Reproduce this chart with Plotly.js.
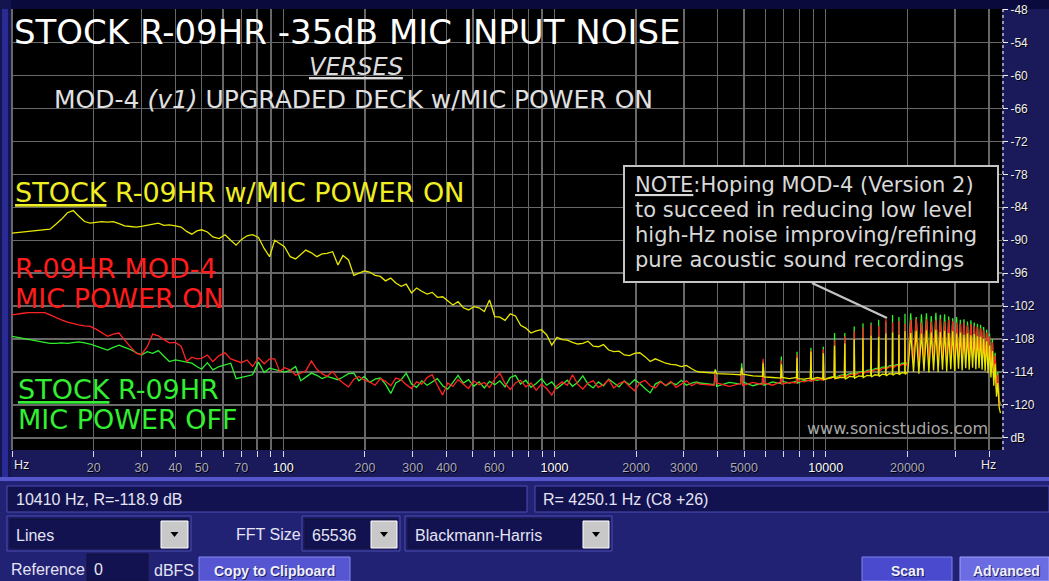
<!DOCTYPE html>
<html><head><meta charset="utf-8">
<script src="https://cdn.plot.ly/plotly-3.0.1.min.js"></script>
<style>html,body{margin:0;padding:0;background:#1a1a5a;overflow:hidden}#chart{width:1049px;height:581px}</style>
</head><body><div id="chart"></div>
<script>
// ---------- DATA ----------
const freqLow = [10,10.5,11,11.5,12,12.6,13.2,13.8,14.5,15.2,16,16.8,17.6,18.5,19.4,20.4,21.4,22.5,23.6,24.8,26,27.3,28.7,30,31.5,33,34.6,36.3,38,40,42,44,46,48,50,52.5,55,58,61,64,67,70,73.5,77,81,85,89,93,97,101,106,111,116,121,127,133,139,145,152,159,166,174,182,190,199,208,218,228,238,249,260,272,284,297,310,324,339,354,370,387,404,422,441,461,482,504,527,551,576,602,629,657,687,718,750,784,819,856,895,935,977,1021,1067,1115,1165,1217,1272,1329,1389,1451,1516,1584,1655,1730,1808,1889,1974,2063,2156,2253,2354,2460,2571,2687,2808,2934,3066,3204,3348];

const stockOnLow = [-88.7,-88.6,-88.5,-88.4,-88.3,-88.2,-88.1,-88.0,-87.1,-86.2,-85.0,-84.6,-85.6,-86.6,-86.9,-86.8,-86.6,-86.7,-86.6,-87.0,-87.4,-87.5,-87.6,-87.5,-87.3,-87.1,-86.9,-87.3,-87.2,-87.4,-87.6,-88.4,-88.9,-88.3,-88.1,-88.5,-89.4,-89.7,-89.0,-90.0,-90.9,-89.9,-89.2,-89.0,-89.5,-91.5,-93.0,-90.0,-90.6,-91.2,-93.0,-93.4,-92.6,-91.8,-92.3,-93.0,-92.5,-92.4,-92.1,-94.5,-92.8,-93.6,-96.4,-96.0,-95.6,-95.8,-96.4,-96.6,-97.4,-96.9,-97.8,-98.4,-98.0,-99.6,-98.7,-99.3,-99.8,-99.5,-100.4,-100.3,-101.0,-101.8,-101.2,-102.3,-102.7,-102.1,-102.3,-103.0,-100.9,-103.9,-104.0,-104.6,-103.4,-103.8,-105.5,-106.0,-106.9,-106.5,-106.3,-107.2,-109.1,-107.7,-108.1,-108.2,-108.6,-108.9,-108.8,-108.4,-109.3,-109.4,-109.0,-110.0,-110.3,-110.2,-110.9,-111.0,-110.6,-110.5,-111.2,-112.1,-111.6,-112.0,-112.4,-112.6,-112.7,-113.0,-112.8,-113.4,-113.9];

const modOnLow = [-103.6,-103.4,-103.3,-103.2,-103.2,-103.1,-103.2,-103.6,-104.1,-104.5,-104.9,-105.2,-105.4,-105.6,-105.7,-106.2,-106.8,-107.5,-107.1,-106.9,-108.2,-109.4,-110.6,-110.8,-109.4,-107.1,-107.4,-108.1,-108.7,-108.6,-109.3,-112.1,-111.3,-111.6,-111.5,-110.9,-112.1,-111.0,-110.5,-111.6,-111.9,-112.3,-111.8,-113.0,-111.4,-112.5,-111.6,-111.6,-113.9,-113.2,-113.6,-114.6,-114.2,-113.8,-112.0,-113.5,-114.3,-114.8,-113.9,-115.2,-116.0,-116.7,-115.3,-114.8,-115.5,-115.8,-116.4,-115.2,-115.7,-116.5,-115.1,-115.4,-116.3,-117.0,-115.8,-116.2,-115.0,-114.5,-116.4,-118.2,-116.0,-116.6,-115.4,-116.2,-117.0,-115.6,-116.3,-115.9,-116.8,-115.3,-114.2,-116.1,-117.2,-116.0,-115.5,-116.7,-116.0,-117.3,-116.2,-117.0,-118.2,-116.5,-115.8,-116.4,-114.5,-116.2,-117.1,-116.0,-115.6,-116.8,-116.3,-115.4,-116.9,-116.1,-115.7,-116.6,-117.4,-116.0,-115.5,-116.5,-116.9,-115.8,-116.4,-115.7,-116.8,-116.2,-115.6,-116.5,-116.0];

const stockOffLow = [-107.5,-107.7,-107.9,-108.1,-108.3,-108.5,-108.7,-108.8,-108.8,-108.7,-108.8,-108.7,-108.5,-108.7,-108.9,-109.3,-109.6,-110.0,-109.5,-109.1,-109.5,-109.9,-110.5,-110.9,-110.3,-110.6,-110.1,-111.2,-112.1,-111.8,-112.0,-112.2,-112.4,-113.0,-113.5,-112.3,-113.6,-113.0,-112.7,-112.4,-115.2,-115.0,-114.7,-114.5,-112.2,-114.1,-113.3,-113.5,-113.8,-114.0,-113.7,-113.0,-115.6,-114.9,-114.2,-114.6,-115.2,-114.8,-115.1,-115.4,-114.9,-114.3,-114.2,-115.6,-114.8,-115.9,-115.3,-115.1,-116.2,-117.9,-116.0,-115.4,-114.2,-116.2,-116.8,-115.6,-116.4,-115.8,-115.2,-116.5,-117.1,-115.9,-114.6,-116.0,-115.4,-116.6,-115.8,-116.9,-115.7,-116.3,-115.6,-116.7,-115.0,-114.6,-116.2,-115.5,-116.8,-116.1,-115.2,-116.4,-115.8,-117.0,-116.3,-115.5,-116.6,-115.9,-114.7,-116.2,-116.9,-115.8,-116.5,-115.3,-116.0,-116.7,-115.6,-116.3,-115.4,-116.1,-117.0,-117.8,-116.2,-115.7,-116.5,-115.9,-116.3,-115.5,-116.4,-116.0,-115.8];

const freqHigh = [3430,
 3880,3920,3960,4410, 4860,4900,4940,5390, 5840,5880,5920,6370, 6820,6860,6900,7350,
 7800,7840,7880,8330, 8780,8820,8860,9310, 9760,9800,9840,10290, 10740,10780,10820,11270,
 11720,11760,11800,12250, 12700,12740,12780,13230, 13680,13720,13760,14210, 14660,14700,14740,15190,
 15640,15680,15720,16170, 16620,16660,16700,17150, 17600,17640,17680,18130, 18580,18620,18660,19110,
 19560,19600,19640,20090,
 20580,21070, 21560,22050, 22540,23030, 23520,24010, 24500,24990, 25480,25970, 26460,26950, 27440,27930,
 28420,28910, 29400,29890, 30380,30870, 31360,31850, 32340,32830, 33320,33810, 34300,34790, 35280,35770,
 36260,36750, 37240,37730, 38220,38710, 39200,39690, 40180,40670, 41160,41650, 42140,42630, 43120,43610,
 44100];

const stockOnHigh = [-114.0,
 -114.2,-113.6,-114.3,-114.4, -114.5,-113.2,-114.4,-114.7, -114.8,-112.4,-114.9,-115.0, -115.1,-112.6,-115.0,-115.2,
 -115.0,-111.4,-115.2,-115.3, -115.1,-110.3,-115.3,-115.0, -115.2,-110.6,-115.4,-115.1, -114.9,-109.2,-115.2,-115.0,
 -115.0,-108.8,-115.3,-114.8, -114.9,-108.0,-115.1,-114.7, -114.8,-107.8,-115.0,-114.6, -114.7,-107.4,-114.9,-114.5,
 -114.6,-107.6,-114.8,-114.4, -114.5,-107.0,-114.7,-114.3, -114.4,-106.8,-114.6,-114.2, -114.3,-107.2,-114.5,-114.1,
 -114.2,-106.6,-114.4,-114.0,
 -106.9,-114.0, -106.5,-114.3, -107.0,-113.8, -106.4,-114.1, -106.8,-113.7, -106.3,-114.0, -106.7,-113.6, -106.5,-113.9,
 -106.9,-113.5, -106.6,-113.8, -107.0,-113.4, -106.8,-113.7, -107.2,-113.3, -107.0,-113.6, -107.3,-113.2, -107.1,-113.5,
 -107.5,-113.3, -107.6,-113.6, -108.0,-113.8, -108.4,-114.2, -109.2,-115.0, -110.2,-116.5, -112.5,-118.5, -116.0,-120.5,
 -121.5];

const modOnHigh = [-116.2,
 -116.4,-114.2,-116.0,-116.6, -116.1,-113.6,-116.5,-115.9, -116.3,-111.6,-116.0,-116.4, -115.8,-111.9,-116.2,-115.9,
 -116.0,-110.8,-115.6,-115.8, -115.4,-110.1,-115.7,-115.3, -115.5,-109.8,-115.1,-115.2, -114.9,-108.2,-115.2,-114.8,
 -114.6,-107.5,-114.9,-114.5, -114.3,-106.6,-114.6,-114.2, -114.0,-105.9,-114.3,-113.9, -113.8,-105.4,-114.0,-113.6,
 -113.5,-105.6,-113.8,-113.4, -113.3,-104.4,-113.5,-113.1, -113.0,-105.0,-113.3,-112.9, -112.8,-104.7,-113.0,-112.6,
 -112.7,-105.2,-112.9,-112.5,
 -104.5,-112.4, -104.3,-112.6, -105.0,-112.2, -104.4,-112.5, -104.8,-112.0, -104.5,-112.3, -104.3,-111.9, -104.8,-112.2,
 -104.5,-111.8, -104.7,-112.1, -105.0,-111.7, -105.2,-112.0, -104.9,-111.6, -105.5,-111.9, -105.2,-111.5, -105.6,-111.8,
 -105.8,-111.7, -106.0,-112.0, -106.4,-112.3, -106.8,-112.8, -107.5,-113.6, -108.6,-115.0, -111.0,-117.5, -114.5,-119.5,
 -120.0];

const stockOffHigh = [-116.0,
 -116.3,-113.5,-116.6,-115.9, -116.2,-112.4,-115.8,-116.5, -116.0,-112.0,-116.4,-115.8, -116.1,-111.2,-115.7,-116.0,
 -115.7,-110.3,-116.0,-115.5, -115.6,-109.6,-115.3,-115.5, -115.2,-109.4,-115.4,-115.0, -114.8,-106.9,-115.0,-114.6,
 -114.5,-106.9,-114.7,-114.3, -114.2,-105.7,-114.4,-114.0, -113.9,-105.1,-114.1,-113.7, -113.6,-105.0,-113.8,-113.4,
 -113.3,-104.5,-113.5,-113.1, -113.1,-104.8,-113.3,-112.9, -112.8,-103.6,-113.0,-112.7, -112.6,-104.0,-112.8,-112.4,
 -112.4,-103.4,-112.6,-112.2,
 -103.3,-112.1, -104.0,-112.3, -103.5,-111.9, -103.3,-112.2, -103.8,-111.7, -103.2,-112.0, -103.6,-111.6, -103.5,-111.9,
 -103.9,-111.5, -104.2,-111.8, -104.0,-111.4, -104.5,-111.7, -104.4,-111.3, -104.8,-111.6, -104.6,-111.2, -105.0,-111.5,
 -105.2,-111.4, -105.4,-111.7, -105.8,-112.0, -106.3,-112.5, -107.0,-113.3, -108.0,-114.8, -110.5,-117.2, -114.0,-119.2,
 -119.8];

const gridHz = [10,20,30,40,50,60,70,80,90,100,200,300,400,500,600,700,800,900,1000,2000,3000,4000,5000,6000,7000,8000,9000,10000,20000,30000,40000];
const hzLabels = ['','20','30','40','50','','70','','','100','200','300','400','','600','','','','1000','2000','3000','','5000','','','','','10000','20000','',''];
const brightHz = ['100','1000','10000'];
const dbTicks = [-48,-54,-60,-66,-72,-78,-84,-90,-96,-102,-108,-114,-120,-126];
const dbLabels = ['-48','-54','-60','-66','-72','-78','-84','-90','-96','-102','-108','-114','-120','dB'];

const seriesNames = ['STOCK R-09HR MIC POWER OFF','R-09HR MOD-4 MIC POWER ON','STOCK R-09HR w/MIC POWER ON'];

// ---------- LAYOUT HELPERS (pixel -> paper) ----------
const PL = 11, PR = 1002, PT = 9, PB = 450;
const X = p => (p - PL) / (PR - PL);
const Y = p => (PB - p) / (PB - PT);
const FONT = 'DejaVu Sans, sans-serif';
const UI = 'Liberation Sans, Arial, sans-serif';

function R(x0, y0, x1, y1, fill, line, lw, layer) {
  return {type:'rect', xref:'paper', yref:'paper', x0:X(x0), x1:X(x1), y0:Y(y1), y1:Y(y0),
          fillcolor:fill, line:{color:line||fill, width:lw||0}, layer:layer||'below'};
}
function L(x0, y0, x1, y1, color, w, dash, layer) {
  return {type:'line', xref:'paper', yref:'paper', x0:X(x0), x1:X(x1), y0:Y(y0), y1:Y(y1),
          line:{color:color, width:w, dash:dash||'solid'}, layer:layer||'above'};
}
function tri(cx, cy) {
  return {type:'path', xref:'paper', yref:'paper', layer:'below', fillcolor:'#000', line:{width:0},
    path:'M'+X(cx-4)+','+Y(cy-2)+' L'+X(cx+4)+','+Y(cy-2)+' L'+X(cx)+','+Y(cy+3)+' Z'};
}
function A(text, x, y, size, color, opt) {
  opt = opt || {};
  return {xref:'paper', yref:'paper', x:X(x), y:Y(y), text:text, showarrow:false,
    xanchor:opt.xa||'left', yanchor:'middle',
    font:{family:opt.family||FONT, size:size, color:color, weight:opt.weight||'normal', shadow:opt.shadow||'none'}};
}

const shapes = [
  R(0,0,1049,9,'#0a0a3c'),
  R(0,0,11,480,'#14144e'),
  R(2,9,8,478,'#2a2a94'),
  R(0,477,1049,481,'#5656cc'),
  R(0,481,1049,581,'#222274'),
  R(7,486,527,512,'#121250','#4c4cb4',1),
  R(535,486,1049,512,'#121250','#4c4cb4',1),
  R(7,516,191,551,'#1c1c66','#4c4cb4',1),
  R(10,519,188,548,'#121250','#10103a',1),
  R(161,521,188,548,'#c8c8c8','#ffffff',1),
  tri(174.5,534),
  R(302,516,400,551,'#1c1c66','#4c4cb4',1),
  R(305,519,397,548,'#121250','#10103a',1),
  R(371,521,397,548,'#c8c8c8','#ffffff',1),
  tri(384,534),
  R(405,516,612,551,'#1c1c66','#4c4cb4',1),
  R(408,519,609,548,'#121250','#10103a',1),
  R(583,521,609,548,'#c8c8c8','#ffffff',1),
  tri(596,534),
  R(87,554,148,581,'#121250','#10103a',1),
  R(199,557,350,581,'#5656d2','#8888f2',1),
  R(862,557,952,581,'#4a4ace','#8080ee',1),
  R(960,557,1049,581,'#6c6ce2','#a0a0ff',1),
  // note box
  R(624,166,998,282,'#000000','#c4c4c4',2,'above'),
  L(812,283,887,318,'#c4c4c4',2.2),
  // dotted right axis line
  L(1003,9,1003,450,'#e8e8f0',1.2,'dot')
];

const annotations = [
  A('STOCK R-09HR -35dB MIC INPUT NOISE', 12, 32, 34, '#ffffff'),
  A('<i><u>VERSES</u></i>', 356, 67, 24, '#dcdcdc', {xa:'center'}),
  A('MOD-4 <i>(v1)</i> UPGRADED DECK w/MIC POWER ON', 52, 99, 25, '#e0e0e0'),
  A('<u>STOCK</u> R-09HR w/MIC POWER ON', 13, 192, 27, '#eeee22'),
  A('R-09HR MOD-4', 13, 268, 27, '#ff1c1c'),
  A('MIC POWER ON', 13, 298, 27, '#ff1c1c'),
  A('<u>STOCK</u> R-09HR', 16, 389, 27, '#33ee33'),
  A('MIC POWER OFF', 16, 419, 27, '#33ee33'),
  A('<u>NOTE</u>:Hoping MOD-4 (Version 2)', 633, 185, 21, '#d8d8d8'),
  A('to succeed in reducing low level', 633, 210, 21, '#d8d8d8'),
  A('high-Hz noise improving/refining', 633, 235, 21, '#d8d8d8'),
  A('pure acoustic sound recordings', 633, 260, 21, '#d8d8d8'),
  A('www.sonicstudios.com', 805, 428, 16, '#a8a8a8'),
  A('Hz', 12, 465, 12.5, '#e8e8f4', {family:UI, shadow:'1px 1px 0px #000'}),
  A('Hz', 979, 465, 12.5, '#e8e8f4', {family:UI, shadow:'1px 1px 0px #000'}),
  A('10410 Hz, R=-118.9 dB', 14, 499, 16, '#e4e4f4', {family:UI}),
  A('R= 4250.1 Hz (C8 +26)', 541, 499, 16, '#e4e4f4', {family:UI}),
  A('Lines', 14, 535, 16, '#e4e4f4', {family:UI}),
  A('FFT Size', 234, 534, 16, '#e4e4f4', {family:UI}),
  A('65536', 310, 535, 16, '#e4e4f4', {family:UI}),
  A('Blackmann-Harris', 413, 535, 16, '#e4e4f4', {family:UI}),
  A('Reference', 9, 569, 16, '#e4e4f4', {family:UI}),
  A('0', 92, 569, 16, '#e4e4f4', {family:UI}),
  A('dBFS', 152, 570, 16, '#e4e4f4', {family:UI}),
  A('Copy to Clipboard', 274, 571, 14, '#f0f0ff', {family:UI, xa:'center', weight:'bold', shadow:'1px 1px 0px #202060'}),
  A('Scan', 907, 571, 14, '#f0f0ff', {family:UI, xa:'center', weight:'bold', shadow:'1px 1px 0px #202060'}),
  A('Advanced', 1006, 571, 14, '#f0f0ff', {family:UI, xa:'center', weight:'bold', shadow:'1px 1px 0px #202060'})
];

const freqAll = freqLow.concat(freqHigh);
function tr(db, color, name) {
  return {x:freqAll, y:db, type:'scatter', mode:'lines', name:name,
          line:{color:color, width:1.3}, hoverinfo:'skip'};
}
const data = [
  tr(stockOffLow.concat(stockOffHigh), '#2cf02c', seriesNames[0]),
  tr(modOnLow.concat(modOnHigh), '#ff2222', seriesNames[1]),
  tr(stockOnLow.concat(stockOnHigh), '#e6e600', seriesNames[2])
];

const tickText = hzLabels.map(t => brightHz.indexOf(t) >= 0 ? '<span style="color:#ffffff">' + t + '</span>' : t);

const layout = {
  width:1049, height:581,
  margin:{l:PL, r:1049-PR, t:PT, b:581-PB, pad:0},
  paper_bgcolor:'#1a1a5a', plot_bgcolor:'#000000',
  showlegend:false,
  xaxis:{type:'log', range:[0.996, 4.65], tickmode:'array', tickvals:gridHz, ticktext:tickText,
         showgrid:true, gridcolor:'#686868', gridwidth:1.4, zeroline:false, showline:false,
         ticks:'outside', ticklen:6, tickwidth:1, tickcolor:'#d8d8e8',
         tickfont:{family:UI, size:12.5, color:'#a8a8bc', shadow:'1px 1px 0px #000'}, fixedrange:true},
  yaxis:{side:'right', range:[-128.2, -47.9], tickmode:'array', tickvals:dbTicks, ticktext:dbLabels,
         showgrid:true, gridcolor:'#686868', gridwidth:1.4, zeroline:false, showline:false,
         ticks:'outside', ticklen:5, tickwidth:1, tickcolor:'#f0f0f0',
         tickfont:{family:UI, size:12, color:'#f0f0f0', shadow:'1px 1px 0px #000'}, fixedrange:true},
  shapes:shapes, annotations:annotations
};

Plotly.newPlot('chart', data, layout, {displayModeBar:false, staticPlot:true});
</script></body></html>
